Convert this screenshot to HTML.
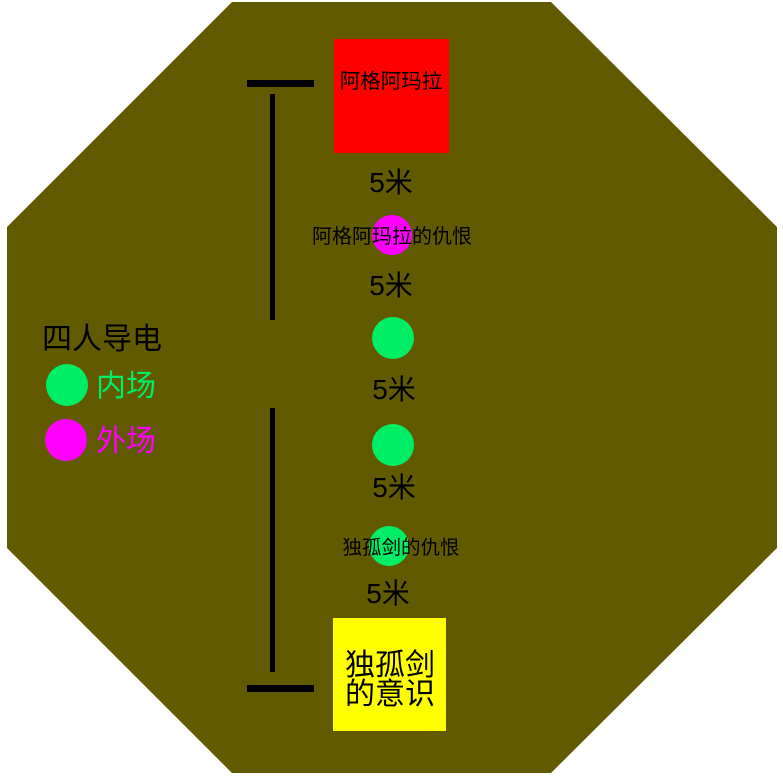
<!DOCTYPE html>
<html><head><meta charset="utf-8"><style>
body{margin:0;background:#fff;}
svg text{font-family:"Liberation Sans","Noto Sans CJK SC",sans-serif;}
</style></head><body>
<svg width="783" height="777" viewBox="0 0 783 777" xmlns="http://www.w3.org/2000/svg">
<polygon points="232,2 551,2 777,227 777,548 551,773 232,773 7,548 7,227" fill="#615a00"/>
<rect x="247" y="80" width="67" height="7" fill="#000"/>
<rect x="247" y="685" width="67" height="7" fill="#000"/>
<rect x="270" y="94" width="5" height="226" fill="#000"/>
<rect x="270" y="408" width="5" height="264" fill="#000"/>
<rect x="334" y="39" width="115" height="114" fill="#ff0000"/>
<text x="391" y="88" font-size="20.5" text-anchor="middle" fill="#000">阿格阿玛拉</text>
<rect x="333" y="618" width="113" height="113" fill="#ffff00"/>
<text x="390" y="675" font-size="30" text-anchor="middle" fill="#000">独孤剑</text>
<text x="390" y="704" font-size="30" text-anchor="middle" fill="#000">的意识</text>
<g font-size="28" text-anchor="middle" fill="#000">
<text x="391" y="192">5米</text>
<text x="391" y="295">5米</text>
<text x="394" y="399">5米</text>
<text x="394" y="497">5米</text>
<text x="388" y="603">5米</text>
</g>
<circle cx="392" cy="235" r="20" fill="#ff00ff"/>
<circle cx="393" cy="338" r="21" fill="#00ee66"/>
<circle cx="393" cy="445" r="21" fill="#00ee66"/>
<circle cx="389" cy="546" r="20" fill="#00ee66"/>
<text x="392" y="243" font-size="20" text-anchor="middle" fill="#000">阿格阿玛拉的仇恨</text>
<text x="401" y="554" font-size="19.5" text-anchor="middle" fill="#000">独孤剑的仇恨</text>
<text x="42" y="349" font-size="30" fill="#000">四人导电</text>
<circle cx="67" cy="385" r="21" fill="#00ee66"/>
<circle cx="66" cy="440" r="21" fill="#ff00ff"/>
<text x="96" y="396" font-size="30" fill="#00ee66">内场</text>
<text x="96" y="451" font-size="30" fill="#ff00ff">外场</text>
</svg>
</body></html>
